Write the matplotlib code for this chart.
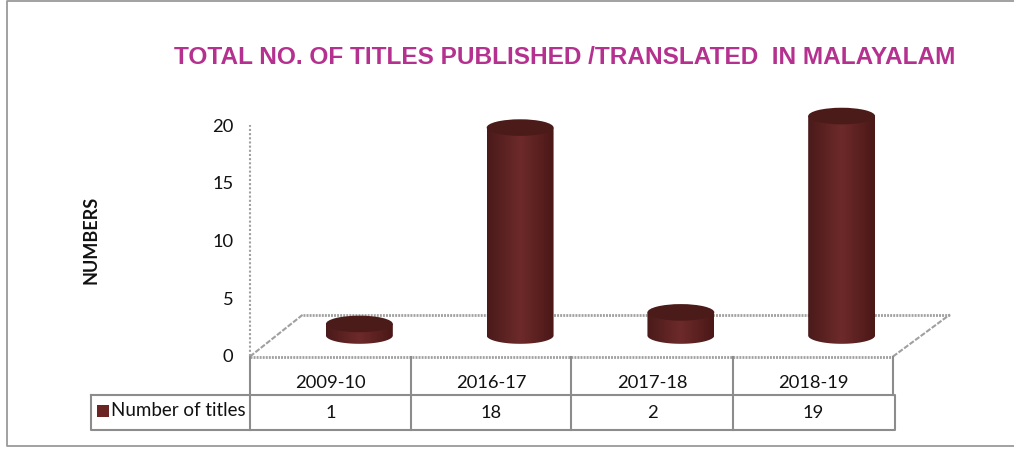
import numpy as np
import matplotlib
matplotlib.use('Agg')
import matplotlib.pyplot as plt
from matplotlib.colors import LinearSegmentedColormap
from matplotlib.patches import Ellipse, PathPatch, Rectangle
from matplotlib.path import Path

# data
years = ['2009-10', '2016-17', '2017-18', '2018-19']
titles = [1, 18, 2, 19]
yticks = [0, 5, 10, 15, 20]
series_name = 'Number of titles'
chart_title = 'TOTAL NO. OF TITLES PUBLISHED /TRANSLATED  IN MALAYALAM'
ylabel = 'NUMBERS'

W, H = 1014, 449
dpi = 100
plt.rcParams['font.family'] = ['Lato', 'DejaVu Sans']

fig = plt.figure(figsize=(W/dpi, H/dpi), dpi=dpi)
grey = '#8c8c8c'
dots = '#a0a0a0'


def axes_px(x0, x1, ytop, ybot):
	return fig.add_axes([x0/W, 1-ybot/H, (x1-x0)/W, (ybot-ytop)/H])


# pixel overlay for frame, floor and table lines
bg = axes_px(0, W, 0, H)
bg.set_xlim(0, W)
bg.set_ylim(H, 0)
bg.axis('off')

bg.plot([W, 6.5, 6.5, W], [0.8, 0.8, 446, 446], color='#9a9a9a', lw=1.3)

# floor
bg.plot([250, 893], [356.5, 356.5], color=dots, lw=2, ls=(0, (0.7, 0.4)))
bg.plot([303, 950], [314.5, 314.5], color=dots, lw=2, ls=(0, (0.7, 0.4)))
bg.plot([250, 303], [356.5, 314.5], color=dots, lw=1.5, ls=(0, (2.5, 0.8)))
bg.plot([893, 950], [356.5, 314.5], color=dots, lw=1.5, ls=(0, (2.5, 0.8)))

# table
edges = [250, 411, 571, 733, 893]
for e in edges[:-1]:
	bg.plot([e, e], [357, 430], color=grey, lw=1.5)
bg.plot([893, 893], [357, 395], color=grey, lw=1.5)
bg.plot([91, 895, 895, 91, 91], [395, 395, 430, 430, 395], color=grey, lw=1.5)

for i in range(4):
	cx = (edges[i]+edges[i+1])/2
	bg.text(cx, 383.5, years[i], ha='center', va='center', fontsize=13.2, color='#111111')
	bg.text(cx, 412.5, str(titles[i]), ha='center', va='center', fontsize=13.2, color='#111111')
bg.add_patch(Rectangle((97, 405), 12, 12, color='#6b2424', lw=0))
bg.text(111, 410.5, series_name, ha='left', va='center', fontsize=13.5, color='#111111')

bg.text(565, 58, chart_title, ha='center', va='center', fontsize=17.6, fontweight='bold',
	family='Liberation Sans', color='#b5318f')
bg.text(91, 240, ylabel, ha='center', va='center', rotation=90, fontsize=13,
	fontweight='bold', color='#111111')

# value axis, 0 on the front floor edge
ax = axes_px(250, 893, 125, 356)
ax.patch.set_alpha(0)
ax.set_ylim(0, 20)
ax.set_xlim(-0.5, 3.5)
ax.set_yticks(yticks)
ax.set_xticks([])
ax.tick_params(axis='y', length=0, pad=12, labelsize=13.2, labelcolor='#111111')
for s in ['top', 'right', 'bottom']:
	ax.spines[s].set_visible(False)
ax.spines['left'].set_color(dots)
ax.spines['left'].set_linewidth(1.5)
ax.spines['left'].set_linestyle((0, (1, 1)))
ax.spines['left'].set_capstyle('butt')

# cylinders stand on the floor depth, so same scale shifted back
# axes goes 2 units below 0 so the rounded bottoms are not cut off
ax2 = axes_px(279, 922, 104.5, 335.5+2*231/20)
ax2.patch.set_alpha(0)
ax2.axis('off')

rx = 0.208
ry = 0.72
cmap = LinearSegmentedColormap.from_list('cyl', ['#4a1a1a', '#6e2a2a', '#4a1817'])
grad = np.linspace(0, 1, 128).reshape(1, -1)
t = np.linspace(0, np.pi, 60)

for i, v in enumerate(titles):
	xs = np.concatenate([[i-rx], i-rx*np.cos(t), [i+rx]])
	ys = np.concatenate([[v], -ry*np.sin(t), [v]])
	body = PathPatch(Path(np.column_stack([xs, ys])), transform=ax2.transData, fc='none', ec='none')
	ax2.add_patch(body)
	im = ax2.imshow(grad, cmap=cmap, extent=[i-rx, i+rx, -ry, v], aspect='auto', zorder=2)
	im.set_clip_path(body)
	ax2.add_patch(Ellipse((i, v), 2*rx, 2*ry, fc='#4b1b19', ec='none', zorder=3))
ax2.set_xlim(-0.5, 3.5)
ax2.set_ylim(-2, 20)

fig.savefig('out.png', dpi=dpi)
